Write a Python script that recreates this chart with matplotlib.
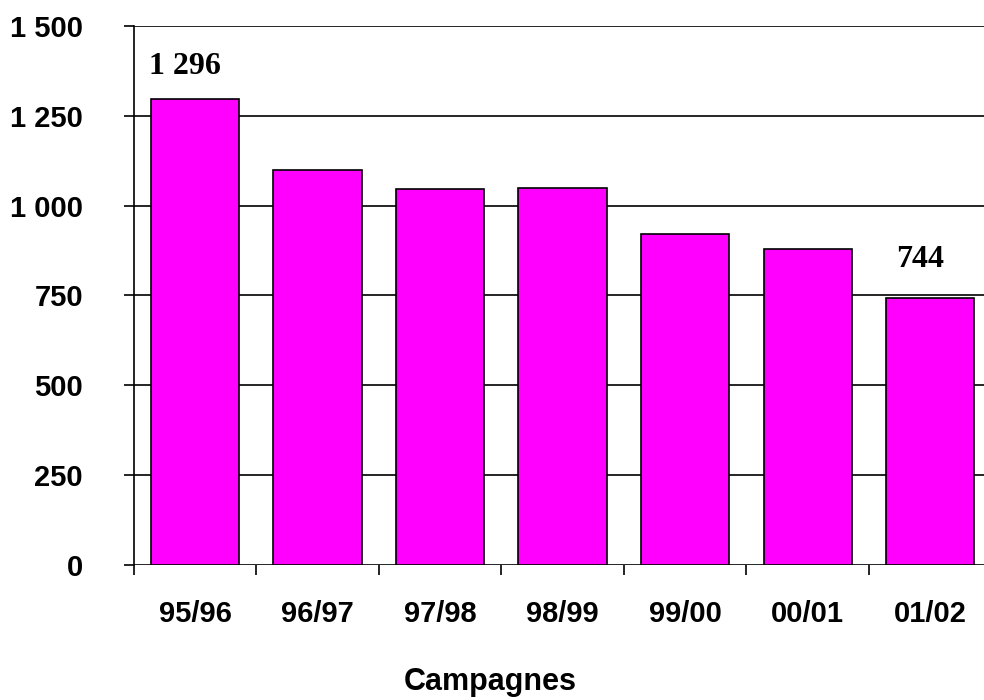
import matplotlib.pyplot as plt
from matplotlib.ticker import FuncFormatter

# Campagnes et volumes
campagnes = ['95/96', '96/97', '97/98', '98/99', '99/00', '00/01', '01/02']
valeurs = [1296, 1100, 1045, 1050, 922, 879, 744]
yticks = [0, 250, 500, 750, 1000, 1250, 1500]

plt.rcParams['font.family'] = ['Liberation Sans', 'DejaVu Sans']

fig = plt.figure(figsize=(9.84, 7), dpi=100)
ax = fig.add_axes([0.1359, 0.1929, 0.8717, 0.77])

x = range(len(campagnes))
ax.bar(x, valeurs, width=0.72, color='#ff00ff', edgecolor='black', linewidth=1.2, zorder=3)

ax.set_xlim(-0.5, len(campagnes) - 0.5)
ax.set_ylim(0, 1500)
ax.set_yticks(yticks)
ax.yaxis.set_major_formatter(FuncFormatter(lambda v, p: f"{v:,.0f}".replace(',', ' ')))
ax.grid(axis='y', color='black', linewidth=1.2, zorder=1)

# graduations de l'axe x entre les barres
ax.set_xticks([i - 0.5 for i in x], minor=False)
ax.set_xticklabels([])
ax.set_xticks(list(x), minor=True)
ax.set_xticklabels(campagnes, minor=True)
ax.tick_params(axis='x', which='minor', length=0, pad=25)
ax.tick_params(axis='x', which='major', length=7.5, width=1.2, direction='out')
ax.tick_params(axis='y', length=7.5, width=1.2, direction='out', pad=29)

for lab in ax.get_yticklabels() + ax.get_xticklabels(minor=True):
    lab.set_fontsize(21)
    lab.set_fontweight('bold')

for s in ['top', 'right', 'bottom']:
    ax.spines[s].set_visible(False)
ax.spines['left'].set_linewidth(1.2)

# étiquettes de la première et de la dernière campagne
for i, dy in [(0, 18), (len(valeurs) - 1, 24)]:
    ax.annotate(f"{valeurs[i]:,}".replace(',', ' '), (i, valeurs[i]),
                xytext=(-7, dy * 0.72), textcoords='offset points',
                ha='center', va='bottom', fontsize=23, fontweight='bold',
                family=['Liberation Serif', 'DejaVu Serif'])

fig.text(490 / 984, 10 / 700, 'Campagnes', ha='center', va='baseline',
         fontsize=22, fontweight='bold')

fig.savefig('out.png', dpi=100)
